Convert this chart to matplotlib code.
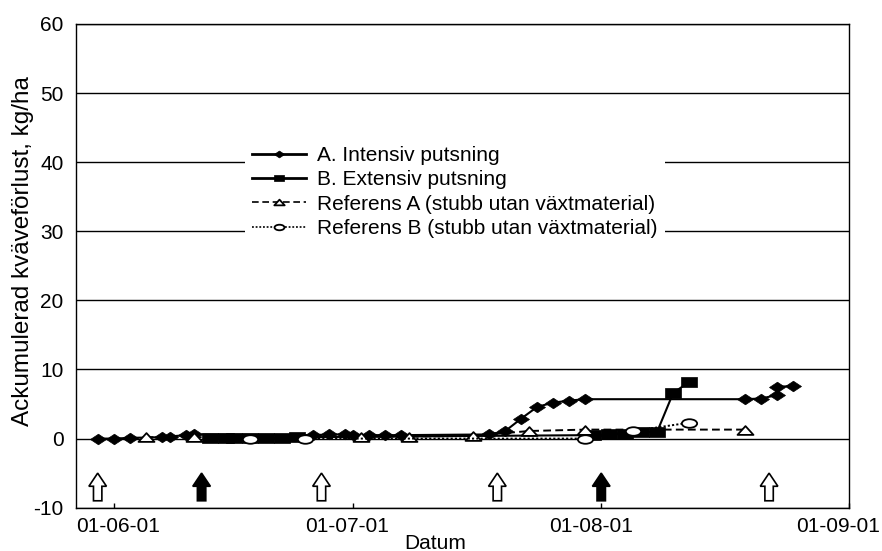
import matplotlib
matplotlib.use("Agg")
import matplotlib.pyplot as plt
import matplotlib.dates as mdates
from matplotlib.path import Path
from matplotlib.transforms import Affine2D, ScaledTranslation
from matplotlib.patches import FancyArrow
import numpy as np

plt.rcParams['font.family'] = ['Liberation Sans', 'DejaVu Sans']
plt.rcParams['axes.unicode_minus'] = False

# Accumulated nitrogen loss (kg/ha) per sampling date
a_dates = ['2001-05-30', '2001-06-01', '2001-06-03', '2001-06-07', '2001-06-08', '2001-06-10',
           '2001-06-11', '2001-06-26', '2001-06-28', '2001-06-30', '2001-07-01', '2001-07-03',
           '2001-07-05', '2001-07-07', '2001-07-18', '2001-07-20', '2001-07-22', '2001-07-24',
           '2001-07-26', '2001-07-28', '2001-07-30', '2001-08-19', '2001-08-21', '2001-08-23',
           '2001-08-23', '2001-08-25']
a_values = [0.0, 0.0, 0.1, 0.2, 0.3, 0.5,
            0.6, 0.5, 0.6, 0.6, 0.5, 0.5,
            0.5, 0.5, 0.6, 1.1, 2.9, 4.6,
            5.2, 5.5, 5.7, 5.7, 5.8, 6.3,
            7.5, 7.6]

b_dates = ['2001-06-13', '2001-06-15', '2001-06-16', '2001-06-18', '2001-06-20', '2001-06-22',
           '2001-06-24', '2001-07-31', '2001-08-02', '2001-08-04', '2001-08-06', '2001-08-08',
           '2001-08-10', '2001-08-12']
b_values = [0.1, 0.1, 0.1, 0.1, 0.1, 0.1,
            0.2, 0.5, 0.6, 0.7, 0.9, 1.0,
            6.6, 8.2]

ref_a_dates = ['2001-06-05', '2001-06-11', '2001-07-02', '2001-07-08', '2001-07-16', '2001-07-23',
               '2001-07-30', '2001-08-19']
ref_a_values = [0.2, 0.2, 0.3, 0.3, 0.4, 1.1, 1.3, 1.3]

ref_b_dates = ['2001-06-18', '2001-06-25', '2001-07-30', '2001-08-05', '2001-08-12']
ref_b_values = [0.0, 0.0, 0.0, 1.1, 2.3]

# Mowing events (filled = both treatments, open = intensive only)
event_dates = ['2001-05-30', '2001-06-12', '2001-06-27', '2001-07-19', '2001-08-01', '2001-08-22']
event_filled = [False, True, False, False, True, False]

labels = ['A. Intensiv putsning', 'B. Extensiv putsning',
          'Referens A (stubb utan växtmaterial)', 'Referens B (stubb utan växtmaterial)']
tick_dates = ['2001-06-01', '2001-07-01', '2001-08-01', '2001-09-01']
y_ticks = [-10, 0, 10, 20, 30, 40, 50, 60]


def to_num(ds):
    return mdates.date2num(np.array(ds, dtype='datetime64[D]'))


def poly(verts):
    return Path(verts + [verts[0]], closed=True)


diamond = poly([(0, 0.66), (1, 0), (0, -0.66), (-1, 0)])
square = poly([(-1, -0.62), (1, -0.62), (1, 0.62), (-1, 0.62)])
triangle = poly([(0, 0.55), (-1, -0.55), (1, -0.55)])
ellipse = Affine2D().scale(1.0, 0.56).transform_path(Path.unit_circle())

fig = plt.figure(figsize=(8.82, 5.51), dpi=100)
ax = fig.add_axes([0.0862, 0.0786, 0.8764, 0.8779])

ax.plot(to_num(a_dates), a_values, color='black', lw=1.5, marker=diamond, ms=11.5,
        mfc='black', mec='black', mew=0.5, label=labels[0], zorder=3)
ax.plot(to_num(b_dates), b_values, color='black', lw=1.5, marker=square, ms=12,
        mfc='black', mec='black', mew=0.5, label=labels[1], zorder=3)
ax.plot(to_num(ref_a_dates), ref_a_values, color='black', lw=1.4, ls=(0, (4, 2.2)),
        marker=triangle, ms=11.5, mfc='white', mec='black', mew=1.3, label=labels[2], zorder=3)
ax.plot(to_num(ref_b_dates), ref_b_values, color='black', lw=1.4, ls=(0, (1.1, 1.1)),
        marker=ellipse, ms=11, mfc='white', mec='black', mew=1.3, label=labels[3], zorder=3)

for d, filled in zip(to_num(event_dates), event_filled):
    ax.add_patch(FancyArrow(d, -9.0, 0, 4.0, width=1.05, head_width=2.2, head_length=1.9,
                            length_includes_head=True, fc='black' if filled else 'white',
                            ec='black', lw=1.2, zorder=4))

ax.set_xlim(mdates.date2num(np.datetime64('2001-05-27T07:00')), to_num(['2001-09-01'])[0])
ax.set_ylim(-10, 60)
ax.set_yticks(y_ticks)
ax.set_xticks(to_num(tick_dates))
ax.xaxis.set_major_formatter(mdates.DateFormatter('%y-%m-%d'))

ax.yaxis.grid(True, color='black', lw=1.0, zorder=1)
ax.set_axisbelow(True)
for s in ax.spines.values():
    s.set_color('black')
    s.set_linewidth(1.0)

ax.tick_params(axis='x', direction='in', length=3.6, width=1.0, labelsize=15, pad=7)
ax.tick_params(axis='y', length=0, labelsize=15, pad=9)

# nudge the date labels sideways
for lbl, dx in zip(ax.get_xticklabels(), [4, -6.5, -10, -11]):
    lbl.set_transform(lbl.get_transform() + ScaledTranslation(dx / 100, 0, fig.dpi_scale_trans))

ax.set_xlabel('Datum', fontsize=15, va='center')
ax.xaxis.set_label_coords(0.4644, -0.073)
ax.set_ylabel('Ackumulerad kväveförlust, kg/ha', fontsize=17.5, va='center')
ax.yaxis.set_label_coords(-0.069, 0.53)

leg = ax.legend(loc='upper left', bbox_to_anchor=(0.2186, 0.7622), fontsize=15,
                frameon=True, fancybox=False, framealpha=1, facecolor='white',
                edgecolor='none', borderpad=0.35, handlelength=2.6, handletextpad=0.5,
                labelspacing=0.25, borderaxespad=0, markerscale=0.65)
leg.set_zorder(5)
for ln, w in zip(leg.get_lines(), [2.0, 2.0, 1.2, 1.2]):
    ln.set_linewidth(w)

fig.savefig('out.png', dpi=100)
